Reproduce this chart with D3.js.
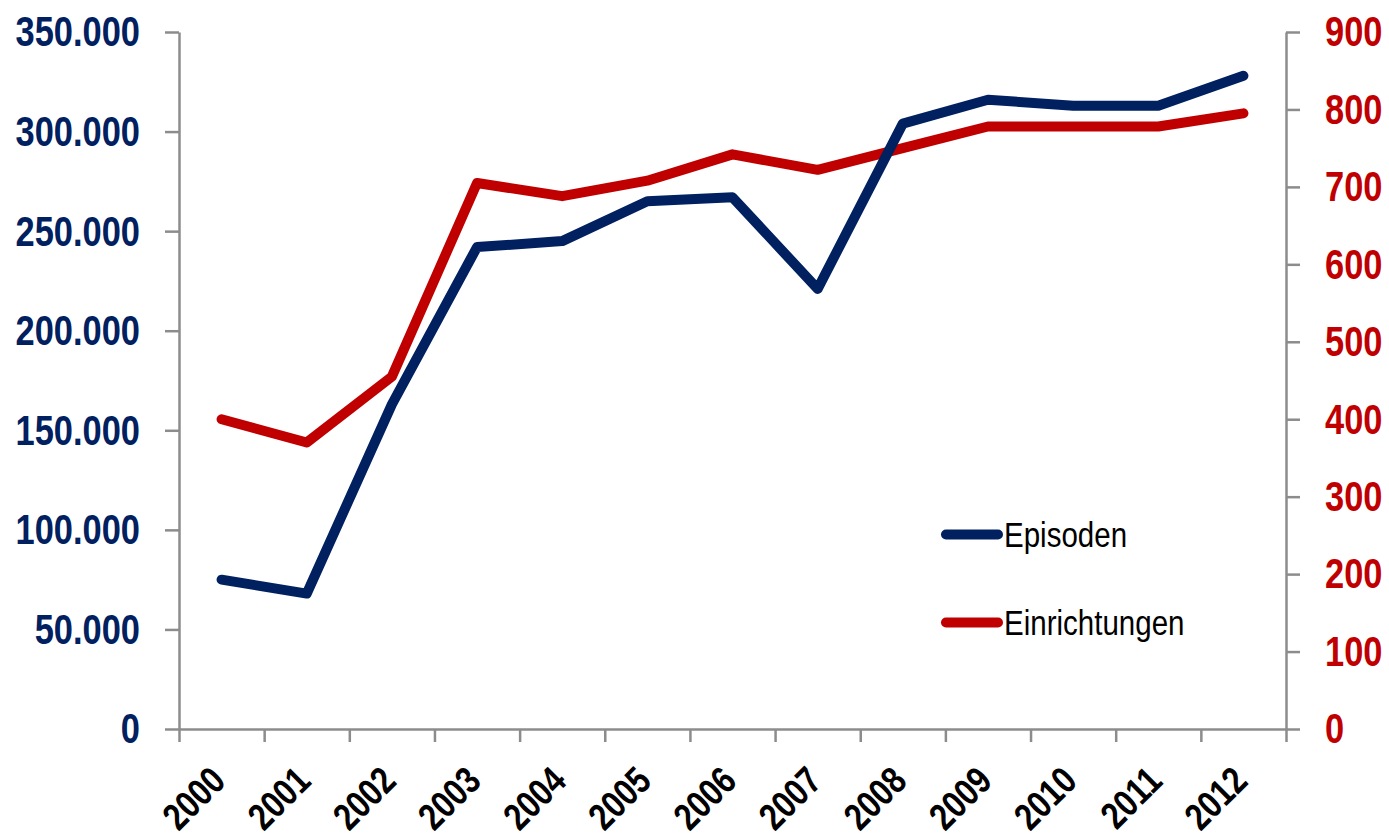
<!DOCTYPE html>
<html><head><meta charset="utf-8">
<script src="https://cdn.jsdelivr.net/npm/d3@7"></script>
<style>
html,body{margin:0;padding:0;background:#fff;}
svg text{font-family:"Liberation Sans",Arial,sans-serif;}
</style></head>
<body>
<svg id="c" width="1389" height="840"></svg>
<script>
const years = ["2000","2001","2002","2003","2004","2005","2006","2007","2008","2009","2010","2011","2012"];
const episoden = [75000,68000,163000,242000,245000,265000,267000,221000,304000,316000,313000,313000,328000];
const einrichtungen = [400,370,455,705,688,708,742,722,750,778,778,778,795];
const leftTicks = [0,50000,100000,150000,200000,250000,300000,350000];
const rightTicks = [0,100,200,300,400,500,600,700,800,900];
const seriesNames = ["Episoden","Einrichtungen"];

const blue = "#002060", red = "#C00000", grey = "#8c8c8c";
const SX = 0.82; // horizontal condensation of the fonts
const svg = d3.select("#c");
const L = 179, R = 1286, T = 32, B = 729;

const x = d3.scaleBand().domain(years).range([L, R]).padding(0);
const yL = d3.scaleLinear().domain([0, 350000]).range([B, T]);
const yR = d3.scaleLinear().domain([0, 900]).range([B, T]);
const fmt = d => d3.format(",")(d).replace(/,/g, ".");

const gl = svg.append("g").attr("transform", `translate(${L},0)`)
  .call(d3.axisLeft(yL).tickValues(leftTicks).tickSize(14).tickSizeOuter(0).tickPadding(25).tickFormat(fmt));
const gr = svg.append("g").attr("transform", `translate(${R},0)`)
  .call(d3.axisRight(yR).tickValues(rightTicks).tickSize(14).tickSizeOuter(0).tickPadding(25));
const xb = d3.scaleLinear().domain([0, years.length]).range([L, R]);
const gx = svg.append("g").attr("transform", `translate(0,${B})`)
  .call(d3.axisBottom(xb).tickValues(d3.range(years.length + 1)).tickSize(13).tickSizeOuter(0).tickFormat(""));

[gl, gr, gx].forEach(g => {
  g.select(".domain").attr("stroke", grey).attr("stroke-width", 2.5);
  g.selectAll(".tick line").attr("stroke", grey).attr("stroke-width", 2.5);
});
[[gl, blue], [gr, red]].forEach(([g, col]) => {
  g.selectAll(".tick text").each(function () {
    const t = d3.select(this);
    const tx = +t.attr("x");
    t.attr("x", 0).attr("transform", `translate(${tx},0) scale(${SX},1)`)
      .attr("fill", col).attr("font-size", 42).attr("font-weight", "bold").attr("dy", "0.33em");
  });
});

// x labels
svg.append("g").selectAll("text").data(years).join("text")
  .attr("transform", d => `translate(${x(d) + x.bandwidth() / 2 + 6},783) rotate(-45) scale(${SX},1)`)
  .attr("text-anchor", "end")
  .attr("font-size", 38).attr("font-weight", "bold").attr("fill", "#000")
  .text(d => d);

// lines
const cx = d => x(d) + x.bandwidth() / 2;
const lineL = d3.line().x((d, i) => cx(years[i])).y(d => yL(d));
const lineR = d3.line().x((d, i) => cx(years[i])).y(d => yR(d));
svg.append("path").datum(einrichtungen).attr("d", lineR)
  .attr("fill", "none").attr("stroke", red).attr("stroke-width", 10)
  .attr("stroke-linecap", "round").attr("stroke-linejoin", "round");
svg.append("path").datum(episoden).attr("d", lineL)
  .attr("fill", "none").attr("stroke", blue).attr("stroke-width", 10)
  .attr("stroke-linecap", "round").attr("stroke-linejoin", "round");

// legend
const leg = svg.append("g");
[[seriesNames[0], blue, 534.5], [seriesNames[1], red, 622.5]].forEach(([name, col, yy]) => {
  leg.append("line").attr("x1", 946).attr("x2", 998).attr("y1", yy).attr("y2", yy)
    .attr("stroke", col).attr("stroke-width", 10).attr("stroke-linecap", "round");
  leg.append("text").attr("transform", `translate(1004,${yy + 12}) scale(${SX},1)`)
    .attr("font-size", 36).attr("fill", "#000").text(name);
});
</script>
</body></html>
